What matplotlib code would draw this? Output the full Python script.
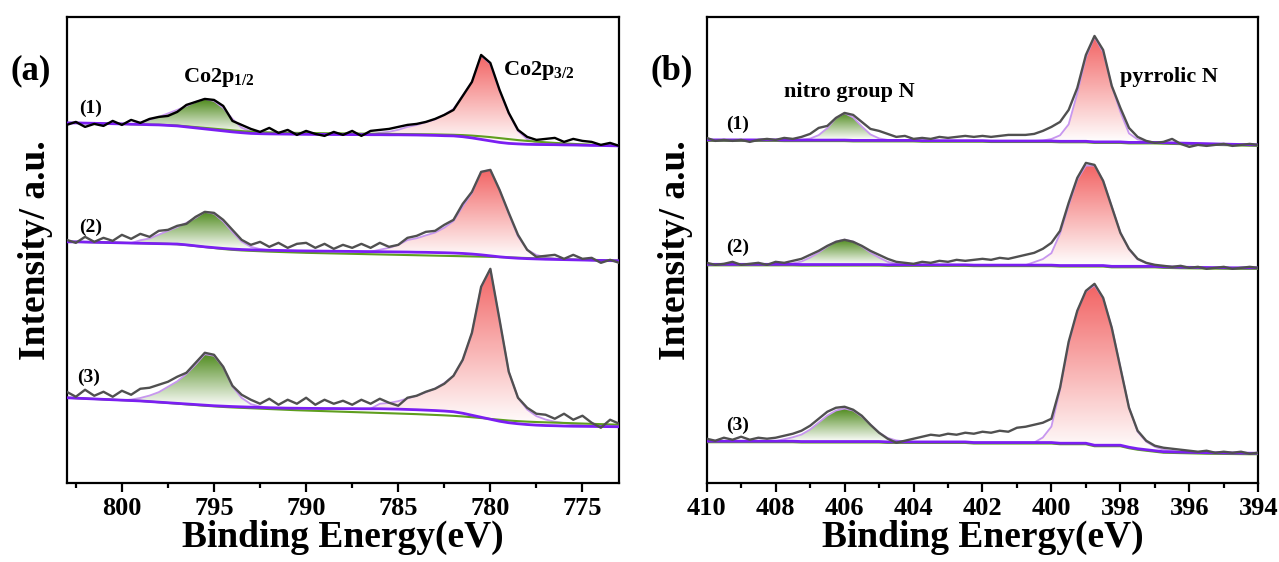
import matplotlib
matplotlib.use('Agg')
import matplotlib.pyplot as plt
import numpy as np
from matplotlib.colors import LinearSegmentedColormap
from matplotlib.ticker import MultipleLocator

plt.rcParams.update({
    'font.family': 'Liberation Serif',
    'font.weight': 'bold',
    'mathtext.fontset': 'custom',
    'mathtext.rm': 'Liberation Serif:bold',
    'mathtext.bf': 'Liberation Serif:bold',
    'mathtext.it': 'Liberation Serif:bold',
})

# ---- Co 2p (panel a), grid 803 -> 773 eV, 0.5 eV step ----
E_co = np.arange(803, 772.9, -0.5)

co1_data = [358, 361, 356, 359, 357, 362, 358, 363, 360, 364,
            366, 367, 371, 378, 381, 384, 383, 377, 362, 358,
            354, 351, 355, 350, 353, 348, 352, 349, 347, 351,
            348, 352, 347, 352, 353, 354, 356, 358, 359, 361,
            364, 368, 373, 387, 401, 428, 420, 393, 370, 353,
            346, 343, 344, 345, 341, 344, 342, 341, 338, 340, 337]
co1_bg = [360, 360, 359.8, 359.6, 359.4, 359.2, 359, 358.7, 358.5, 358.2,
          358, 357.5, 357, 356, 355, 354, 353, 352, 351, 350.2,
          349.5, 349.2, 349, 348.9, 348.8, 348.7, 348.6, 348.5, 348.5, 348.4,
          348.4, 348.3, 348.3, 348.2, 348.2, 348.1, 348.1, 348, 347.9, 347.7,
          347.5, 347.2, 347, 346.2, 345, 343.5, 342, 340.5, 339.5, 339,
          338.6, 338.4, 338.3, 338.2, 338, 337.9, 337.7, 337.5, 337.4, 337.2, 337]
co1_gline = [360, 360, 359.8, 359.6, 359.4, 359.2, 359, 358.7, 358.5, 358.3,
             358.2, 357.8, 357.4, 356.6, 355.8, 355, 354.2, 353.4, 352.6, 351.8,
             351.2, 350.8, 350.5, 350.3, 350.1, 350, 349.9, 349.8, 349.7, 349.6,
             349.5, 349.4, 349.3, 349.2, 349.1, 349, 348.9, 348.8, 348.7, 348.6,
             348.5, 348.3, 348.1, 347.8, 347.3, 346.6, 345.8, 344.8, 343.8, 342.8,
             342, 341.3, 340.6, 340, 339.5, 339, 338.6, 338.2, 337.9, 337.6, 337.3]
co1_p12 = [0, 0, 0, 0, 0, 0, 0, 0, 2, 5,
           8, 12, 16, 21, 26, 30, 29, 23, 13, 5,
           2, 0.5, 0, 0, 0, 0, 0, 0, 0, 0,
           0, 0, 0, 0, 0, 0, 0, 0, 0, 0,
           0, 0, 0, 0, 0, 0, 0, 0, 0, 0,
           0, 0, 0, 0, 0, 0, 0, 0, 0, 0, 0]
co1_p32 = [0, 0, 0, 0, 0, 0, 0, 0, 0, 0,
           0, 0, 0, 0, 0, 0, 0, 0, 0, 0,
           0, 0, 0, 0, 0, 0, 0, 0, 0, 0,
           0, 0, 0, 0, 2, 3, 5, 8, 10, 13,
           16, 21, 27, 41, 56, 84, 77, 52, 30, 13,
           5, 2, 1, 0, 0, 0, 0, 0, 0, 0, 0]

co2_data = [243, 240, 246, 241, 245, 242, 248, 244, 249, 246,
            252, 253, 257, 259, 266, 271, 270, 263, 253, 243,
            238, 241, 236, 240, 235, 239, 240, 235, 239, 234,
            238, 235, 239, 235, 240, 236, 238, 245, 247, 251,
            252, 258, 263, 279, 291, 311, 313, 293, 270, 248,
            233, 226, 227, 228, 224, 228, 224, 225, 220, 223, 220]
co2_bg = [241, 241, 240.8, 240.6, 240.4, 240.2, 240, 239.8, 239.6, 239.4,
          239.2, 239, 238.8, 238, 237, 236, 235.2, 234.4, 233.8, 233.3,
          233, 232.8, 232.6, 232.4, 232.2, 232, 231.9, 231.8, 231.7, 231.6,
          231.5, 231.4, 231.3, 231.2, 231.1, 231, 230.9, 230.8, 230.6, 230.5,
          230.3, 230.1, 229.8, 229.4, 228.8, 228, 227, 226, 225.2, 224.6,
          224.2, 223.9, 223.6, 223.4, 223.2, 223, 222.8, 222.6, 222.4, 222.2, 222]
co2_gline = [241, 241, 240.8, 240.6, 240.4, 240.2, 240, 239.8, 239.6, 239.4,
             239.2, 239, 238.6, 237.8, 236.8, 235.8, 234.8, 233.8, 233, 232.4,
             232, 231.6, 231.2, 230.9, 230.6, 230.3, 230, 229.8, 229.6, 229.4,
             229.2, 229, 228.8, 228.6, 228.4, 228.2, 228, 227.8, 227.6, 227.4,
             227.2, 227, 226.8, 226.6, 226.4, 226.2, 226, 225.7, 225.4, 225.1,
             224.8, 224.5, 224.2, 223.9, 223.6, 223.3, 223, 222.8, 222.6, 222.4, 222.2]
co2_p12 = [0, 0, 0, 0, 0, 0, 0, 0, 3, 5,
           9, 13, 17, 22, 28, 35, 34, 27, 17, 8,
           3, 1, 0, 0, 0, 0, 0, 0, 0, 0,
           0, 0, 0, 0, 0, 0, 0, 0, 0, 0,
           0, 0, 0, 0, 0, 0, 0, 0, 0, 0,
           0, 0, 0, 0, 0, 0, 0, 0, 0, 0, 0]
co2_p32 = [0, 0, 0, 0, 0, 0, 0, 0, 0, 0,
           0, 0, 0, 0, 0, 0, 0, 0, 0, 0,
           0, 0, 0, 0, 0, 0, 0, 0, 0, 0,
           0, 0, 0, 0, 2, 4, 7, 12, 14, 17,
           20, 25, 32, 47, 61, 83, 86, 67, 44, 22,
           9, 4, 2, 1, 0, 0, 0, 0, 0, 0, 0]

co3_data = [91, 86, 93, 87, 91, 86, 92, 88, 94, 95,
            98, 101, 106, 110, 120, 130, 128, 116, 97, 88,
            83, 79, 84, 78, 83, 79, 85, 78, 83, 79,
            82, 78, 83, 79, 84, 80, 77, 85, 87, 91,
            94, 99, 107, 123, 150, 196, 214, 163, 111, 85,
            75, 69, 68, 64, 69, 63, 67, 60, 55, 63, 59]
co3_bg = [85, 84.6, 84.2, 83.8, 83.4, 83, 82.6, 82.2, 81.8, 81.2,
          80.6, 80, 79.4, 78.8, 78.2, 77.6, 77, 76.6, 76.2, 75.9,
          75.6, 75.3, 75, 74.8, 74.6, 74.5, 74.4, 74.3, 74.2, 74.2,
          74.1, 74.1, 74, 74, 74, 73.8, 73.6, 73.3, 73, 72.6,
          72.2, 71.7, 71, 69.5, 67.5, 65.5, 63.5, 61.5, 60, 59,
          58.2, 57.6, 57.2, 57, 56.7, 56.5, 56.4, 56.3, 56.2, 56.1, 56]
co3_gline = [85, 84.6, 84.2, 83.8, 83.4, 83, 82.6, 82.2, 81.8, 81.2,
             80.5, 79.8, 79.1, 78.4, 77.7, 77, 76.4, 75.8, 75.3, 74.9,
             74.5, 74.1, 73.7, 73.3, 72.9, 72.5, 72.2, 71.9, 71.6, 71.3,
             71, 70.7, 70.4, 70.1, 69.8, 69.5, 69.2, 68.9, 68.6, 68.2,
             67.8, 67.4, 66.9, 66.3, 65.5, 64.7, 63.8, 63, 62.2, 61.6,
             61.1, 60.7, 60.4, 60.1, 59.8, 59.5, 59.2, 58.9, 58.6, 58.3, 58]
co3_p12 = [0, 0, 0, 0, 0, 0, 0, 1, 3, 6,
           10, 16, 22, 30, 40, 51, 50, 39, 20, 9,
           3, 1, 0, 0, 0, 0, 0, 0, 0, 0,
           0, 0, 0, 0, 0, 0, 0, 0, 0, 0,
           0, 0, 0, 0, 0, 0, 0, 0, 0, 0,
           0, 0, 0, 0, 0, 0, 0, 0, 0, 0, 0]
co3_p32 = [0, 0, 0, 0, 0, 0, 0, 0, 0, 0,
           0, 0, 0, 0, 0, 0, 0, 0, 0, 0,
           0, 0, 0, 0, 0, 0, 0, 0, 0, 0,
           0, 0, 0, 0, 5, 6, 8, 11, 14, 18,
           22, 28, 36, 53, 82, 130, 150, 101, 51, 26,
           15, 9, 6, 4, 3, 2, 1, 0.5, 0, 0, 0]

# ---- N 1s (panel b), grid 410 -> 394 eV, 0.25 eV step ----
E_n = np.arange(410, 393.99, -0.25)

n1_data = [345, 342, 343, 342, 343, 341, 343, 344, 343, 345,
           344, 346, 349, 355, 357, 365, 370, 368, 361, 354,
           352, 349, 346, 347, 344, 345, 344, 346, 345, 346,
           347, 346, 347, 346, 347, 348, 348, 348, 349, 352,
           356, 361, 373, 395, 428, 447, 433, 397, 375, 355,
           346, 342, 340, 341, 344, 339, 336, 338, 337, 338,
           339, 337, 338, 339, 338]
n1_bg = [343, 343, 343, 343, 343, 343, 343, 343, 343, 342.8,
         342.8, 342.8, 342.8, 342.8, 342.8, 342.8, 342.8, 342.5, 342.5, 342.5,
         342.5, 342.5, 342.5, 342.5, 342.5, 342.2, 342.2, 342.2, 342.2, 342.2,
         342.2, 342.2, 342.2, 341.9, 341.9, 341.9, 341.9, 341.9, 341.9, 341.9,
         341.9, 341.6, 341.6, 341.6, 341.6, 341, 341, 341, 341, 340.5,
         340.5, 340.5, 340.5, 340.2, 340, 339.8, 339.6, 339.4, 339.2, 339,
         338.8, 338.6, 338.4, 338.2, 338]
n1_nitro = [0] * 11 + [0.5, 1.5, 5, 12, 22, 27, 23, 14, 6, 2, 0.5] + [0] * 43
n1_pyr = [0] * 39 + [0.5, 2, 6, 17, 48, 84, 105, 90, 56, 30, 9, 3, 1, 0.3] + [0] * 12

n2_data = [220, 218, 219, 221, 218, 219, 220, 218, 221, 220,
           222, 224, 228, 232, 237, 241, 243, 241, 237, 232,
           228, 224, 221, 220, 219, 221, 220, 222, 221, 223,
           222, 223, 224, 223, 225, 224, 226, 228, 230, 234,
           240, 252, 280, 305, 320, 318, 302, 276, 250, 234,
           224, 220, 218, 217, 216, 217, 215, 216, 214, 215,
           216, 214, 215, 216, 215]
n2_bg = [218.5] * 11 + [218.3] * 10 + [218] * 10 + [217.7] * 10 + \
        [217.3] * 6 + [216.5] * 6 + [216, 215.8, 215.6, 215.5, 215.4, 215.3,
                                     215.2, 215.1, 215, 215, 215, 215]
n2_nitro = [0] * 10 + [1, 3, 7, 12, 18, 23, 25, 23, 18, 12, 7, 3, 1] + [0] * 42
n2_pyr = [0] * 38 + [3, 6, 12, 32, 60, 86, 100, 100, 85, 60, 34, 17, 7, 3, 1] + [0] * 12

n3_data = [44, 42, 45, 43, 46, 43, 45, 44, 45, 47,
           49, 52, 57, 64, 71, 75, 76, 73, 67, 58,
           50, 44, 40, 42, 44, 46, 48, 47, 49, 48,
           50, 49, 51, 50, 52, 51, 55, 56, 58, 60,
           64, 95, 141, 172, 192, 199, 185, 155, 115, 75,
           52, 42, 37, 35, 34, 33, 32, 31, 32, 30,
           31, 30, 31, 29, 30]
n3_bg = [41.5] * 11 + [41.2] * 10 + [40.8] * 10 + [40.2] * 10 + \
        [39.5] * 4 + [37.5] * 4 + [35.5, 34, 33, 32, 31, 30.8, 30.6, 30.4,
                                  30.2, 30, 29.9, 29.8, 29.7, 29.6, 29.5, 29.5]
n3_nitro = [0] * 9 + [2, 4, 7, 12, 19, 26, 31, 33, 31, 25, 17, 9, 4, 1.5, 0.5] + [0] * 41
n3_pyr = [0] * 39 + [5, 16, 54, 100, 132, 152, 160, 147, 118, 78, 40, 17, 8, 4, 2, 1] + [0] * 10

PURPLE = '#7b1ff2'
GREENL = '#5f9e1e'
LILAC = '#c797ef'
GRAY = '#505050'
RED_TOP = '#f26464'
GREEN_TOP = '#4e8a1c'


def grad_fill(ax, x, lo, comp, top):
    lo = np.asarray(lo, float)
    hi = lo + np.asarray(comp, float)
    poly = ax.fill_between(x, lo, hi, facecolor='none', edgecolor='none')
    mask = np.asarray(comp) > 0
    y0, y1 = lo[mask].min(), hi.max()
    cmap = LinearSegmentedColormap.from_list('g', ['#ffffff', top])
    grad = np.linspace(0, 1, 256).reshape(-1, 1)
    im = ax.imshow(grad, cmap=cmap, aspect='auto', origin='lower',
                   extent=[x.min(), x.max(), y0, y1], zorder=1)
    im.set_clip_path(poly.get_paths()[0], transform=ax.transData)


def draw(ax, x, data, bg, gline, comp_g, comp_r, data_color):
    bg = np.asarray(bg, float)
    grad_fill(ax, x, bg, comp_g, GREEN_TOP)
    grad_fill(ax, x, bg, comp_r, RED_TOP)
    env = bg + np.asarray(comp_g) + np.asarray(comp_r)
    ax.plot(x, env, color=LILAC, lw=1.3, zorder=2)
    ax.plot(x, gline, color=GREENL, lw=1.5, zorder=3)
    ax.plot(x, bg, color=PURPLE, lw=2.0, zorder=4)
    ax.plot(x, data, color=data_color, lw=1.7, zorder=5)


fig = plt.figure(figsize=(12.79, 5.62), dpi=100)
axa = fig.add_axes([0.0521, 0.1411, 0.4321, 0.8287])
axb = fig.add_axes([0.5525, 0.1411, 0.4313, 0.8287])

draw(axa, E_co, co1_data, co1_bg, co1_gline, co1_p12, co1_p32, 'black')
draw(axa, E_co, co2_data, co2_bg, co2_gline, co2_p12, co2_p32, GRAY)
draw(axa, E_co, co3_data, co3_bg, co3_gline, co3_p12, co3_p32, GRAY)

for data, bg, cg, cr in [(n1_data, n1_bg, n1_nitro, n1_pyr),
                         (n2_data, n2_bg, n2_nitro, n2_pyr),
                         (n3_data, n3_bg, n3_nitro, n3_pyr)]:
    gl = np.asarray(bg, float) - 1.0
    draw(axb, E_n, data, bg, gl, cg, cr, GRAY)

axa.set_xlim(803, 773)
axb.set_xlim(410, 394)
for ax in (axa, axb):
    ax.set_ylim(0, 466)
    ax.set_yticks([])
    for s in ax.spines.values():
        s.set_linewidth(1.6)
    ax.tick_params(axis='x', which='major', direction='out', length=6.5,
                   width=1.6, labelsize=19, pad=4)
    ax.tick_params(axis='x', which='minor', direction='out', length=3.3, width=1.6)
    ax.set_xlabel('Binding Energy(eV)', fontsize=27, fontweight='bold', labelpad=0)
    ax.set_ylabel('Intensity/ a.u.', fontsize=27, fontweight='bold', labelpad=10)
    for lab in ax.get_xticklabels():
        lab.set_fontweight('bold')

axa.xaxis.set_major_locator(MultipleLocator(5))
axa.xaxis.set_minor_locator(MultipleLocator(2.5))
axb.xaxis.set_major_locator(MultipleLocator(2))
axb.xaxis.set_minor_locator(MultipleLocator(1))

# labels
fs = 14
axa.text(801.7, 375, '(1)', fontsize=fs, ha='center', va='center')
axa.text(801.7, 256, '(2)', fontsize=fs, ha='center', va='center')
axa.text(801.8, 105, '(3)', fontsize=fs, ha='center', va='center')
axa.text(796.7, 401, r'Co2p$_{1/2}$', fontsize=16, ha='left', va='baseline')
axa.text(779.3, 408, r'Co2p$_{3/2}$', fontsize=16, ha='left', va='baseline')

axb.text(409.1, 359, '(1)', fontsize=fs, ha='center', va='center')
axb.text(409.1, 235, '(2)', fontsize=fs, ha='center', va='center')
axb.text(409.1, 57, '(3)', fontsize=fs, ha='center', va='center')
axb.text(407.76, 386, 'nitro group N', fontsize=16, ha='left', va='baseline')
axb.text(398.02, 401, 'pyrrolic N', fontsize=16, ha='left', va='baseline')

fig.text(31 / 1279, 1 - 71 / 562, '(a)', fontsize=25, ha='center', va='center')
fig.text(672 / 1279, 1 - 71 / 562, '(b)', fontsize=25, ha='center', va='center')

fig.savefig('out.png', dpi=100)
